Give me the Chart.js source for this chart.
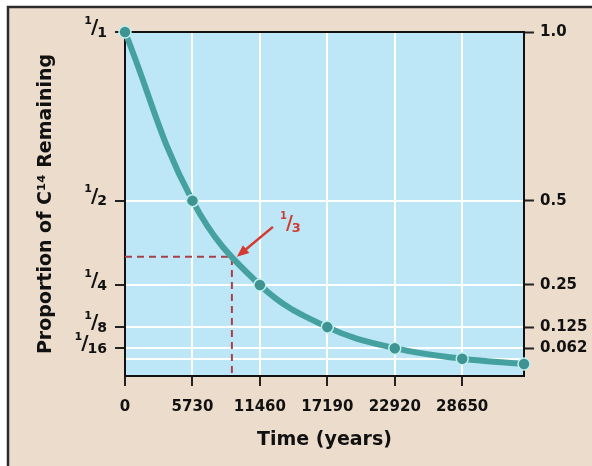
<!DOCTYPE html>
<html>
<head>
<meta charset="utf-8">
<script src="https://cdn.jsdelivr.net/npm/chart.js@4.4.1/dist/chart.umd.min.js"></script>
<style>
  html, body { margin: 0; padding: 0; background: #fff; }
  #wrap { width: 592px; height: 466px; }
</style>
</head>
<body>
<div id="wrap"><canvas id="decay" width="592" height="466"></canvas></div>
<script>
// carbon-14 decay, one point per half-life
const years = [0, 5730, 11460, 17190, 22920, 28650, 33900];
const proportion = [1, 0.5, 0.25, 0.125, 0.0625, 0.03125, 0.015625];

const yearTicks = [0, 5730, 11460, 17190, 22920, 28650];
const fractionTicks = [1, 0.5, 0.25, 0.125, 0.0625, 0.03125];
const fractionDen = ['1', '2', '4', '8', '16', ''];
const decimalTicks = [1, 0.5, 0.25, 0.125, 0.0625];
const decimalLabels = ['1.0', '0.5', '0.25', '0.125', '0.062'];

// the one-third mark
const thirdYears = 9082;
const thirdValue = 1 / 3;

const Y_MIN = -0.02;
const X_MAX = 33900;

const BEIGE = '#ecdccc';
const BLUE = '#bde6f6';
const TEAL = '#45a19f';
const INK = '#111111';
const RED = '#d33a30';
const FONT = '"DejaVu Sans", sans-serif';

Chart.defaults.font.family = FONT;

function drawFrac(ctx, num, den, right, cy, color, size) {
    ctx.fillStyle = color;
    ctx.textBaseline = 'middle';
    ctx.textAlign = 'right';
    ctx.font = `bold ${size}px ${FONT}`;
    ctx.fillText(den, right, cy + 1);
    const dw = ctx.measureText(den).width;
    ctx.font = `bold ${size + 6}px ${FONT}`;
    const sx = right - dw + 1;
    ctx.fillText('/', sx, cy - 4);
    const sw = ctx.measureText('/').width;
    ctx.font = `bold ${size - 3}px ${FONT}`;
    ctx.fillText(num, sx - sw + 1, cy - 11);
}

const backdrop = {
    id: 'backdrop',
    beforeDraw(chart) {
        const { ctx, chartArea: a } = chart;
        ctx.save();
        ctx.fillStyle = '#ffffff';
        ctx.fillRect(0, 0, chart.width, chart.height);
        ctx.fillStyle = BEIGE;
        ctx.fillRect(8, 7, chart.width, chart.height);
        ctx.strokeStyle = '#2b2b2b';
        ctx.lineWidth = 2.5;
        ctx.strokeRect(8, 7, chart.width + 20, chart.height + 20);
        ctx.fillStyle = BLUE;
        ctx.fillRect(a.left, a.top, a.right - a.left, a.bottom - a.top);
        ctx.restore();
    },
    beforeDatasetsDraw(chart) {
        const { ctx, chartArea: a } = chart;
        ctx.save();
        ctx.strokeStyle = INK;
        ctx.lineWidth = 2;
        ctx.strokeRect(a.left, a.top, a.right - a.left, a.bottom - a.top);
        ctx.restore();
    },
    afterDatasetsDraw(chart) {
        const { ctx } = chart;
        const x = chart.scales.x, y = chart.scales.y;
        ctx.save();
        // fraction labels on the left axis
        fractionTicks.forEach((v, i) => {
            if (!fractionDen[i]) return;
            drawFrac(ctx, '1', fractionDen[i], 107, y.getPixelForValue(v), INK, 14);
        });
        // arrow pointing at 1/3
        const px = x.getPixelForValue(thirdYears);
        const py = y.getPixelForValue(thirdValue);
        const tip = { x: px + 5, y: py };
        const tail = { x: px + 41, y: py - 30 };
        const ang = Math.atan2(tip.y - tail.y, tip.x - tail.x);
        ctx.strokeStyle = RED;
        ctx.fillStyle = RED;
        ctx.lineWidth = 2.5;
        ctx.beginPath();
        ctx.moveTo(tail.x, tail.y);
        ctx.lineTo(tip.x - 8 * Math.cos(ang), tip.y - 8 * Math.sin(ang));
        ctx.stroke();
        ctx.beginPath();
        ctx.moveTo(tip.x, tip.y);
        ctx.lineTo(tip.x - 12 * Math.cos(ang) + 5 * Math.sin(ang), tip.y - 12 * Math.sin(ang) - 5 * Math.cos(ang));
        ctx.lineTo(tip.x - 12 * Math.cos(ang) - 5 * Math.sin(ang), tip.y - 12 * Math.sin(ang) + 5 * Math.cos(ang));
        ctx.closePath();
        ctx.fill();
        drawFrac(ctx, '1', '3', tail.x + 28, tail.y + 1, RED, 13);
        ctx.restore();
    }
};

new Chart(document.getElementById('decay'), {
    type: 'line',
    data: {
        datasets: [{
            data: years.map((t, i) => ({ x: t, y: proportion[i] })),
            borderColor: TEAL,
            borderWidth: 6,
            tension: 0.4,
            pointRadius: 6,
            pointBackgroundColor: '#3d9492',
            pointBorderColor: '#c4eeee',
            pointBorderWidth: 1.5,
            clip: false,
            order: 0
        }, {
            data: [
                { x: 0, y: thirdValue },
                { x: thirdYears, y: thirdValue },
                { x: thirdYears, y: Y_MIN }
            ],
            borderColor: '#a8404c',
            borderWidth: 2,
            borderDash: [7, 5],
            pointRadius: 0,
            tension: 0,
            order: 1
        }]
    },
    options: {
        responsive: false,
        animation: false,
        layout: { padding: { top: 32, left: 0, right: 0, bottom: 0 } },
        plugins: { legend: { display: false }, tooltip: { enabled: false } },
        scales: {
            x: {
                type: 'linear',
                min: 0,
                max: X_MAX,
                afterBuildTicks: s => { s.ticks = yearTicks.map(v => ({ value: v })); },
                afterFit: s => { s.height = 90; },
                ticks: {
                    callback: v => String(v),
                    color: INK,
                    font: { size: 15, weight: 'bold' },
                    padding: 12,
                    maxRotation: 0,
                    autoSkip: false
                },
                grid: {
                    color: c => (c.tick && c.tick.value === 0) ? 'rgba(0,0,0,0)' : '#ffffff',
                    lineWidth: 2,
                    tickColor: '#222',
                    tickLength: 10,
                    tickWidth: 2
                },
                border: { display: true, color: INK, width: 2 },
                title: {
                    display: true,
                    text: 'Time (years)',
                    color: INK,
                    font: { size: 19, weight: 'bold' },
                    padding: { top: 4, bottom: 15 }
                }
            },
            y: {
                position: 'left',
                min: Y_MIN,
                max: 1,
                afterBuildTicks: s => { s.ticks = fractionTicks.map(v => ({ value: v })); },
                afterFit: s => { s.width = 125; },
                ticks: { display: false },
                grid: {
                    color: c => (c.tick && c.tick.value === 1) ? 'rgba(0,0,0,0)' : '#ffffff',
                    lineWidth: 2,
                    tickColor: c => (c.tick && c.tick.value < 0.05) ? 'rgba(0,0,0,0)' : '#222',
                    tickLength: 10,
                    tickWidth: 2
                },
                border: { display: true, color: INK, width: 2 },
                title: {
                    display: true,
                    text: 'Proportion of C¹⁴ Remaining',
                    color: INK,
                    font: { size: 19, weight: 'bold' },
                    padding: { top: 35, bottom: 0 }
                }
            },
            y2: {
                position: 'right',
                min: Y_MIN,
                max: 1,
                afterBuildTicks: s => { s.ticks = decimalTicks.map(v => ({ value: v })); },
                afterFit: s => { s.width = 68; },
                ticks: {
                    callback: (v, i) => decimalLabels[i],
                    color: INK,
                    font: { size: 15, weight: 'bold' },
                    padding: 6
                },
                grid: {
                    drawOnChartArea: false,
                    tickColor: '#222',
                    tickLength: 10,
                    tickWidth: 2
                },
                border: { display: true, color: INK, width: 2 }
            }
        }
    },
    plugins: [backdrop]
});
</script>
</body>
</html>
